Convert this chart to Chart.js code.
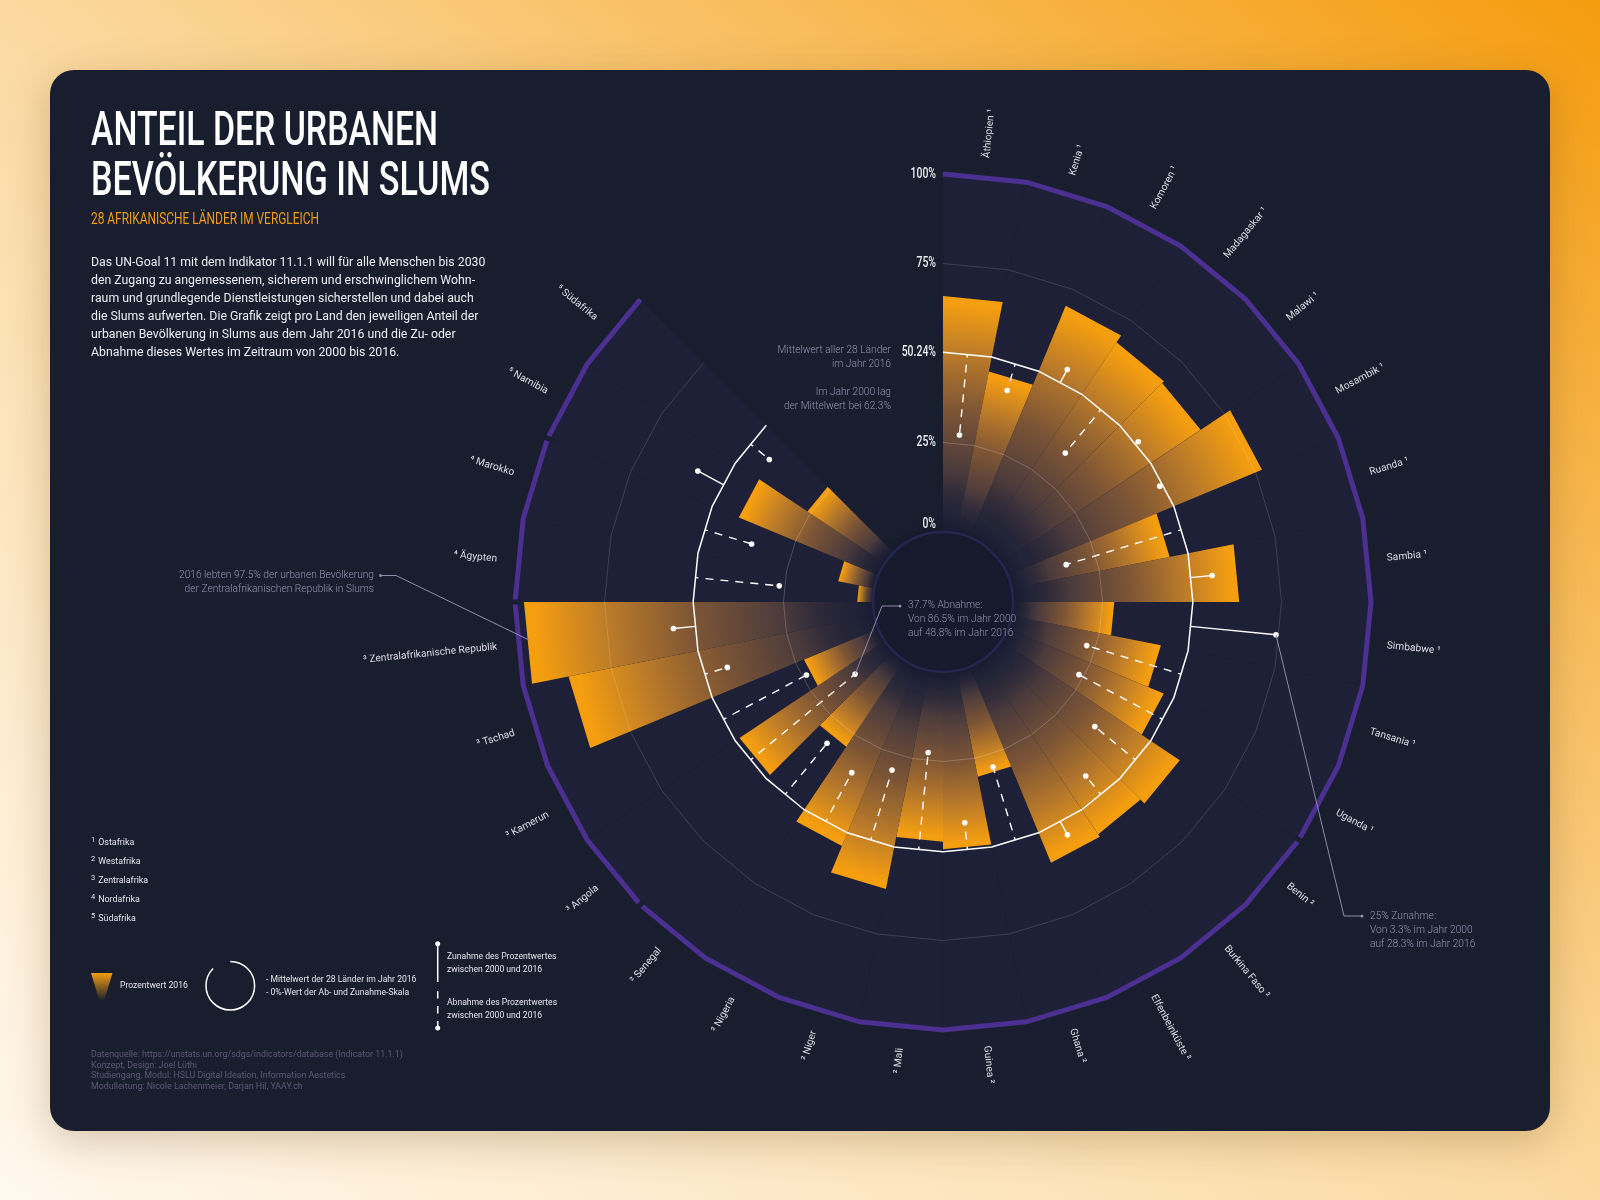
<!DOCTYPE html>
<html lang="de">
<head>
<meta charset="utf-8">
<title>Anteil der urbanen Bevölkerung in Slums</title>
<script src="https://cdn.jsdelivr.net/npm/chart.js@4/dist/chart.umd.min.js"></script>
<style>
html,body{margin:0;padding:0;width:1600px;height:1200px;overflow:hidden}
body{position:relative;background:linear-gradient(to top right,#fff8ee 0%,#fbd9a0 50%,#f59c0e 100%);font-family:Roboto,sans-serif}
#card{position:absolute;left:50px;top:70px;width:1500px;height:1061px;border-radius:24px;background:#181e2e;box-shadow:0 10px 40px rgba(90,60,10,.25)}
canvas{position:absolute;left:0;top:0}
.t{position:absolute;white-space:nowrap;z-index:2;transform-origin:0 50%}
.title{left:91px;font-weight:500;font-size:49px;line-height:50px;color:#fff}
.sub{left:91px;top:209px;font-size:16px;line-height:20px;color:#f39c12}
.body{left:91px;font-size:12.3px;line-height:18px;color:#eceef2}
.foot{left:91px;font-size:8.9px;line-height:14px;color:#e4e5ea}
.foot sup{font-size:7.5px;line-height:0;margin-right:3px;vertical-align:3px}
.lg{font-size:8.6px;line-height:13px;color:#e4e5ea}
.src{left:91px;font-size:8.85px;line-height:11px;color:#5c5876}
.note{font-size:10.2px;font-weight:300;line-height:14px;color:#9692b0}
.r{text-align:right}
</style>
</head>
<body>
<div id="card"></div>
<canvas id="chart" width="1600" height="1200"></canvas>

<div class="t title" style="top:104px" data-w="347">ANTEIL DER URBANEN</div>
<div class="t title" style="top:154px" data-w="399">BEVÖLKERUNG IN SLUMS</div>
<div class="t sub" data-w="228">28 AFRIKANISCHE LÄNDER IM VERGLEICH</div>
<div class="t body" style="top:253px">Das UN-Goal 11 mit dem Indikator 11.1.1 will für alle Menschen bis 2030</div>
<div class="t body" style="top:271px">den Zugang zu angemessenem, sicherem und erschwinglichem Wohn-</div>
<div class="t body" style="top:289px">raum und grundlegende Dienstleistungen sicherstellen und dabei auch</div>
<div class="t body" style="top:307px">die Slums aufwerten. Die Grafik zeigt pro Land den jeweiligen Anteil der</div>
<div class="t body" style="top:325px">urbanen Bevölkerung in Slums aus dem Jahr 2016 und die Zu- oder</div>
<div class="t body" style="top:343px">Abnahme dieses Wertes im Zeitraum von 2000 bis 2016.</div>

<div class="t foot" style="top:835px"><sup>1</sup>Ostafrika</div>
<div class="t foot" style="top:854px"><sup>2</sup>Westafrika</div>
<div class="t foot" style="top:873px"><sup>3</sup>Zentralafrika</div>
<div class="t foot" style="top:892px"><sup>4</sup>Nordafrika</div>
<div class="t foot" style="top:911px"><sup>5</sup>Südafrika</div>

<div class="t lg" style="left:120px;top:979px">Prozentwert 2016</div>
<div class="t lg" style="left:266px;top:973px">- Mittelwert der 28 Länder im Jahr 2016<br>- 0%-Wert der Ab- und Zunahme-Skala</div>
<div class="t lg" style="left:447px;top:950px">Zunahme des Prozentwertes<br>zwischen 2000 und 2016</div>
<div class="t lg" style="left:447px;top:996px">Abnahme des Prozentwertes<br>zwischen 2000 und 2016</div>

<div class="t src" style="top:1049px">Datenquelle: https://unstats.un.org/sdgs/indicators/database (Indicator 11.1.1)</div>
<div class="t src" style="top:1060px">Konzept, Design: Joel Lüthi</div>
<div class="t src" style="top:1070px">Studiengang, Modul: HSLU Digital Ideation, Information Aestetics</div>
<div class="t src" style="top:1081px">Modulleitung: Nicole Lachenmeier, Darjan Hil, YAAY.ch</div>

<div class="t note r" style="right:709px;top:343px">Mittelwert aller 28 Länder<br>im Jahr 2016</div>
<div class="t note r" style="right:709px;top:385px">Im Jahr 2000 lag<br>der Mittelwert bei 62.3%</div>
<div class="t note r" style="right:1226px;top:568px">2016 lebten 97.5% der urbanen Bevölkerung<br>der Zentralafrikanischen Republik in Slums</div>
<div class="t note" style="left:908px;top:598px">37.7% Abnahme:<br>Von 86.5% im Jahr 2000<br>auf 48.8% im Jahr 2016</div>
<div class="t note" style="left:1370px;top:909px">25% Zunahme:<br>Von 3.3% im Jahr 2000<br>auf 28.3% im Jahr 2016</div>

<script>
// 28 countries clockwise from the top, each one 1/32 of the circle
const countries = ['Äthiopien','Kenia','Komoren','Madagaskar','Malawi','Mosambik','Ruanda','Sambia','Simbabwe','Tansania','Uganda',
  'Benin','Burkina Faso','Elfenbeinküste','Ghana','Guinea','Mali','Niger','Nigeria','Senegal',
  'Angola','Kamerun','Tschad','Zentralafrikanische Republik','Ägypten','Marokko','Namibia','Südafrika'];
const regions = ['¹','¹','¹','¹','¹','¹','¹','¹','¹','¹','¹','²','²','²','²','²','²','²','²','²','³','³','³','³','⁴','⁴','⁵','⁵'];
const values2016 = [65.9,46.1,70,67.7,67,76.9,45,63.2,28.3,42.5,47.2,60,58.5,59.3,30.2,49.5,47.4,62.2,54.2,29.1,48.8,22.5,87.1,97.5,4.4,10.3,42.2,26];
// change 2000 -> 2016 in percent points, drawn from the mean ring
const change = [-22.6,-7.7,4.2,-15.6,1.1,-0.8,-33.5,6.1,24,-27.5,-26.4,-14.6,-6.6,4.3,-21.3,-7.5,-27.2,-20.4,-15.4,-18.4,-37.7,-26.2,-6.5,6.2,-23.5,-13.6,8.2,-6.7];
const fullSector = [100,100,100,100,100,100,100,100,100,100,100,100,100,100,100,100,100,100,100,100,100,100,100,100,100,100,100,100];
const tickValues = [0,25,50.24,75,100];
const tickLabels = ['0%','25%','50.24%','75%','100%'];
const mean2016 = 50.24;
const regionBreaks = [11,20,24,26];

const emptyLabels = ['','','',''];
const ring = v => [...fullSector.map(() => v), v, null, null, null];

// wedges with a straight outer edge, same as the polygon rings
class WedgeElement extends Chart.ArcElement {
  static id = 'wedge';
  draw(ctx) {
    const {x, y, startAngle, endAngle, outerRadius} = this;
    const fill = this.options.backgroundColor;
    ctx.beginPath();
    ctx.moveTo(x, y);
    ctx.lineTo(x + outerRadius * Math.cos(startAngle), y + outerRadius * Math.sin(startAngle));
    ctx.lineTo(x + outerRadius * Math.cos(endAngle), y + outerRadius * Math.sin(endAngle));
    ctx.closePath();
    ctx.fillStyle = fill;
    ctx.fill();
    // plain backdrop sectors: hide the seams
    if (typeof fill === 'string') {
      ctx.strokeStyle = fill;
      ctx.lineWidth = 0.4;
      ctx.stroke();
    }
  }
}
class WedgeController extends Chart.PolarAreaController {
  static id = 'wedge';
  static defaults = {...Chart.PolarAreaController.defaults, dataElementType: 'wedge'};
}
Chart.register(WedgeElement, WedgeController);

function wedgeFill(c) {
  const scale = c.chart.scales.r;
  if (!scale || !scale.drawingArea) return 'rgba(0,0,0,0)';
  const r = scale.getDistanceFromCenterForValue(c.dataset.data[c.dataIndex]);
  const g = c.chart.ctx.createRadialGradient(scale.xCenter, scale.yCenter, 68, scale.xCenter, scale.yCenter, r);
  g.addColorStop(0, 'rgba(30,33,55,0)');
  g.addColorStop(0.26, '#4a3a3c');
  g.addColorStop(0.52, '#7d5535');
  g.addColorStop(0.75, '#b8792a');
  g.addColorStop(0.97, '#f59e10');
  g.addColorStop(1, '#f59e10');
  return g;
}

const lineStyle = {type: 'radar', pointRadius: 0, tension: 0, fill: false, spanGaps: false, clip: false, borderJoinStyle: 'miter', borderCapStyle: 'butt'};

const decorations = {
  id: 'decorations',
  afterDatasetsDraw(chart) {
    const ctx = chart.ctx, s = chart.scales.r;
    const dist = v => s.getDistanceFromCenterForValue(v);
    const perPoint = dist(1) - dist(0);
    ctx.save();

    // breaks of the purple ring between the regions
    ctx.strokeStyle = '#181e2e';
    ctx.lineWidth = 5;
    regionBreaks.forEach(i => {
      const a = s.getPointPosition(i, dist(100) - 5), b = s.getPointPosition(i, dist(100) + 5);
      ctx.beginPath(); ctx.moveTo(a.x, a.y); ctx.lineTo(b.x, b.y); ctx.stroke();
    });

    // centre disc
    ctx.save();
    ctx.shadowColor = 'rgba(16,20,36,.9)';
    ctx.shadowBlur = 18;
    ctx.beginPath();
    ctx.arc(s.xCenter, s.yCenter, dist(0), 0, Math.PI * 2);
    ctx.fillStyle = '#151a2c';
    ctx.fill();
    ctx.restore();
    ctx.strokeStyle = '#24264f';
    ctx.lineWidth = 2.5;
    ctx.stroke();

    // stems from the mean ring to the 2000 value
    const base = dist(mean2016) * Math.cos(Math.PI / 32);
    const tips = change.map((d, i) => {
      const from = s.getPointPosition(i + 0.5, base);
      const to = s.getPointPosition(i + 0.5, base + d * perPoint);
      ctx.strokeStyle = '#fff';
      ctx.lineWidth = 1.4;
      ctx.setLineDash(d < 0 ? [8, 7] : []);
      ctx.lineDashOffset = d < 0 ? 5 : 0;
      ctx.beginPath(); ctx.moveTo(from.x, from.y); ctx.lineTo(to.x, to.y); ctx.stroke();
      ctx.setLineDash([]);
      ctx.lineDashOffset = 0;
      ctx.fillStyle = '#fff';
      ctx.beginPath(); ctx.arc(to.x, to.y, 2.8, 0, Math.PI * 2); ctx.fill();
      return to;
    });

    // leader lines of the three notes
    ctx.strokeStyle = '#8f8ba9';
    ctx.fillStyle = '#8f8ba9';
    ctx.lineWidth = 1;
    const leader = pts => {
      ctx.beginPath();
      pts.forEach((p, i) => i ? ctx.lineTo(p[0], p[1]) : ctx.moveTo(p[0], p[1]));
      ctx.stroke();
      const e = pts[pts.length - 1];
      ctx.beginPath(); ctx.arc(e[0], e[1], 1.5, 0, Math.PI * 2); ctx.fill();
    };
    leader([[tips[8].x, tips[8].y], [1344, 916], [1362, 916]]);
    leader([[tips[20].x, tips[20].y], [882, 606], [900, 606]]);
    leader([[529, 640], [396, 575.5], [380.5, 575.5]]);

    // axis values, narrow like the headline
    tickValues.forEach((v, i) => {
      const p = s.getPointPositionForValue(0, v);
      ctx.save();
      ctx.translate(p.x - 7, p.y + (v === 0 ? -8 : 0));
      ctx.scale(0.72, 1);
      ctx.font = '500 14.5px Roboto';
      ctx.fillStyle = '#eceef2';
      ctx.textAlign = 'right';
      ctx.textBaseline = 'middle';
      ctx.fillText(tickLabels[i], 0, 0);
      ctx.restore();
    });

    // country labels along the radius, reading outwards on the right half and inwards on the left
    ctx.font = '10.2px Roboto';
    ctx.fillStyle = '#dcdde3';
    ctx.textBaseline = 'middle';
    countries.forEach((name, i) => {
      const p = s.getPointPosition(i + 0.5, dist(100) + 18);
      const theta = (i + 0.5) * Math.PI / 16;
      const right = i < 16;
      ctx.save();
      ctx.translate(p.x, p.y);
      ctx.rotate(right ? theta - Math.PI / 2 : theta + Math.PI / 2);
      ctx.textAlign = right ? 'left' : 'right';
      ctx.fillText(right ? name + ' ' + regions[i] : regions[i] + ' ' + name, right ? 0 : -2, right ? 0 : 1);
      ctx.restore();
    });

    // legend swatches
    const sw = ctx.createLinearGradient(0, 973, 0, 1001);
    sw.addColorStop(0, '#f39c12');
    sw.addColorStop(1, 'rgba(243,156,18,0)');
    ctx.fillStyle = sw;
    ctx.beginPath();
    ctx.moveTo(91, 973); ctx.lineTo(112.5, 973); ctx.lineTo(104, 1001); ctx.lineTo(99.5, 1001);
    ctx.closePath(); ctx.fill();

    ctx.strokeStyle = '#fff';
    ctx.lineWidth = 1.5;
    ctx.beginPath();
    ctx.arc(230.3, 985.7, 24.3, -Math.PI / 2, Math.PI * 1.25);
    ctx.stroke();

    ctx.fillStyle = '#fff';
    ctx.beginPath(); ctx.moveTo(437.7, 944); ctx.lineTo(437.7, 982); ctx.stroke();
    ctx.beginPath(); ctx.arc(437.7, 943.7, 2.5, 0, Math.PI * 2); ctx.fill();
    ctx.setLineDash([7.5, 7.5]);
    ctx.beginPath(); ctx.moveTo(437.7, 991); ctx.lineTo(437.7, 1028); ctx.stroke();
    ctx.setLineDash([]);
    ctx.beginPath(); ctx.arc(437.7, 1028, 2.5, 0, Math.PI * 2); ctx.fill();

    ctx.restore();
  }
};

new Chart(document.querySelector('#chart'), {
  type: 'radar',
  data: {
    labels: [...countries, ...emptyLabels],
    datasets: [
      {...lineStyle, data: ring(100), borderColor: '#4b2f91', borderWidth: 5, order: 1},
      {...lineStyle, data: ring(mean2016), borderColor: '#ffffff', borderWidth: 1.5, order: 1},
      {...lineStyle, data: ring(75), borderColor: 'rgba(255,255,255,.14)', borderWidth: 1, order: 2},
      {...lineStyle, data: ring(25), borderColor: 'rgba(255,255,255,.2)', borderWidth: 1, order: 2},
      {type: 'wedge', data: values2016, angle: 11.25, backgroundColor: wedgeFill, borderWidth: 0, clip: false, order: 3},
      {type: 'wedge', data: fullSector, angle: 11.25, backgroundColor: '#1d2036', borderWidth: 0, clip: false, order: 4}
    ]
  },
  options: {
    responsive: false,
    maintainAspectRatio: false,
    animation: false,
    events: [],
    layout: {padding: {left: 515, right: 229, top: 174, bottom: 170}},
    plugins: {legend: {display: false}, tooltip: {enabled: false}},
    scales: {
      r: {
        min: -19.55,
        max: 100,
        startAngle: 0,
        grid: {display: false, circular: false},
        angleLines: {display: false},
        pointLabels: {display: false},
        ticks: {display: false}
      }
    }
  },
  plugins: [decorations]
});

// headline font is a narrow one, squeeze the installed font to the measured width
document.querySelectorAll('[data-w]').forEach(el => {
  el.style.transform = 'scaleX(' + (el.dataset.w / el.getBoundingClientRect().width) + ')';
});
</script>
</body>
</html>
